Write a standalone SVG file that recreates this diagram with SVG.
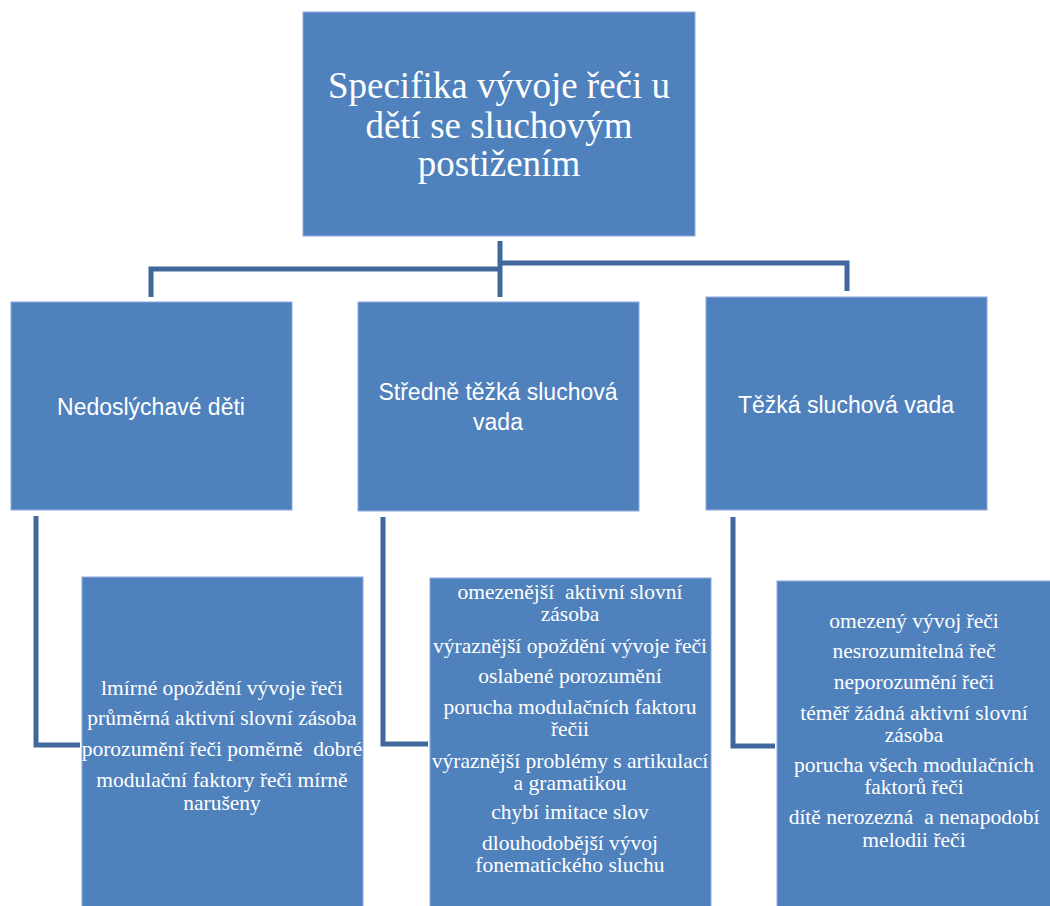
<svg xmlns="http://www.w3.org/2000/svg" width="1050" height="906" viewBox="0 0 1050 906">
<style>
.box{fill:#4F81BD;stroke:#8FAADC;stroke-width:1}
.con{fill:none;stroke:#41689A;stroke-width:5}
.t{fill:#fff;font-family:"Liberation Serif","Times New Roman",serif;text-anchor:middle;white-space:pre}
.title{font-size:37px}
.s{fill:#fff;font-family:"Liberation Sans",Arial,sans-serif;font-size:23px;text-anchor:middle}
.b{font-size:21.5px}
</style>
<rect width="1050" height="906" fill="#fff"/>
<g id="connectors">
<path class="con" d="M500 241V297"/>
<path class="con" d="M500 269H151V297"/>
<path class="con" d="M500 263H847V291"/>
<path class="con" d="M36 516V745H80"/>
<path class="con" d="M383 517V744H428"/>
<path class="con" d="M733 517V746H775"/>
</g>
<g id="root">
<rect class="box" x="303" y="12" width="392" height="224"/>
<text class="t title" x="499" y="98">Specifika vývoje řeči u</text>
<text class="t title" x="499" y="138">dětí se sluchovým</text>
<text class="t title" x="499" y="176">postižením</text>
</g>
<g id="n1">
<rect class="box" x="11" y="302" width="281" height="208"/>
<text class="s" x="151" y="415">Nedoslýchavé děti</text>
</g>
<g id="n2">
<rect class="box" x="358" y="302" width="281" height="209"/>
<text class="s" x="498" y="400">Středně těžká sluchová</text>
<text class="s" x="498" y="430">vada</text>
</g>
<g id="n3">
<rect class="box" x="706" y="297" width="281" height="213"/>
<text class="s" x="846" y="413">Těžká sluchová vada</text>
</g>
<g id="d1">
<rect class="box" x="82" y="577" width="281" height="330"/>
<text class="t b" x="222" y="695">lmírné opoždění vývoje řeči</text>
<text class="t b" x="222" y="725">průměrná aktivní slovní zásoba</text>
<text class="t b" x="222" y="756">porozumění řeči poměrně  dobré</text>
<text class="t b" x="222" y="787">modulační faktory řeči mírně</text>
<text class="t b" x="222" y="810">narušeny</text>
</g>
<g id="d2">
<rect class="box" x="430" y="578" width="281" height="329"/>
<text class="t b" x="570" y="599">omezenější  aktivní slovní</text>
<text class="t b" x="570" y="621">zásoba</text>
<text class="t b" x="570" y="653">výraznější opoždění vývoje řeči</text>
<text class="t b" x="570" y="683">oslabené porozumění</text>
<text class="t b" x="570" y="714">porucha modulačních faktoru</text>
<text class="t b" x="570" y="736">řečii</text>
<text class="t b" x="570" y="768">výraznější problémy s artikulací</text>
<text class="t b" x="570" y="790">a gramatikou</text>
<text class="t b" x="570" y="819">chybí imitace slov</text>
<text class="t b" x="570" y="850">dlouhodobější vývoj</text>
<text class="t b" x="570" y="872">fonematického sluchu</text>
</g>
<g id="d3">
<rect class="box" x="777" y="581" width="274" height="326"/>
<text class="t b" x="914" y="628">omezený vývoj řeči</text>
<text class="t b" x="914" y="658">nesrozumitelná řeč</text>
<text class="t b" x="914" y="689">neporozumění řeči</text>
<text class="t b" x="914" y="720">téměř žádná aktivní slovní</text>
<text class="t b" x="914" y="742">zásoba</text>
<text class="t b" x="914" y="772">porucha všech modulačních</text>
<text class="t b" x="914" y="794">faktorů řeči</text>
<text class="t b" x="914" y="824">dítě nerozezná  a nenapodobí</text>
<text class="t b" x="914" y="847">melodii řeči</text>
</g>
</svg>
